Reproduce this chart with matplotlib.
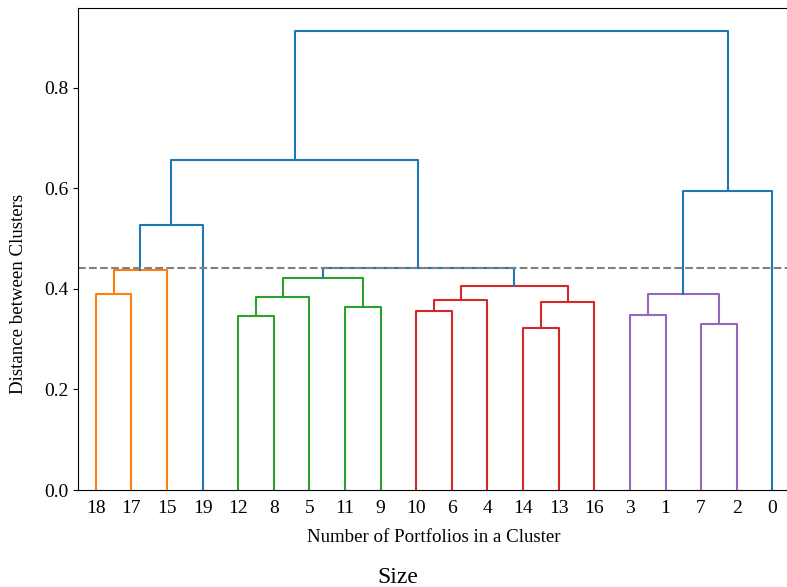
import matplotlib
matplotlib.use("Agg")
import matplotlib.pyplot as plt

plt.rcParams['font.family'] = ['Liberation Serif', 'DejaVu Serif']

# Leaf order as displayed
leaf_labels = [18, 17, 15, 19, 12, 8, 5, 11, 9, 10, 6, 4, 14, 13, 16, 3, 1, 7, 2, 0]

# Linkage: (child_a, child_b, height, colour); new cluster ids start at 20
merge_a = [18, 20, 12, 22, 11, 23, 10, 26, 14, 28, 27, 3, 7, 31, 25, 21, 35, 33, 36]
merge_b = [17, 15, 8, 5, 9, 24, 6, 4, 13, 16, 29, 1, 2, 32, 30, 19, 34, 0, 37]
merge_h = [0.390, 0.437, 0.347, 0.383, 0.363, 0.421, 0.356, 0.378, 0.322, 0.373,
           0.406, 0.349, 0.331, 0.390, 0.441, 0.526, 0.656, 0.595, 0.912]
merge_c = ['C1', 'C1', 'C2', 'C2', 'C2', 'C2', 'C3', 'C3', 'C3', 'C3',
           'C3', 'C4', 'C4', 'C4', 'C0', 'C0', 'C0', 'C0', 'C0']

threshold = 0.442

fig = plt.figure(figsize=(7.87, 5.87), dpi=100)
ax = fig.add_axes([0.099, 0.165, 0.905, 0.821])

pos = {lab: 5 + 10 * i for i, lab in enumerate(leaf_labels)}
hgt = {lab: 0.0 for lab in leaf_labels}
n = len(leaf_labels)
for k, (a, b, h, c) in enumerate(zip(merge_a, merge_b, merge_h, merge_c)):
    xa, xb = pos[a], pos[b]
    ax.plot([xa, xa, xb, xb], [hgt[a], h, h, hgt[b]], color=c, lw=1.5)
    pos[n + k] = (xa + xb) / 2
    hgt[n + k] = h

ax.axhline(threshold, color='gray', ls='--', lw=1.5)

ax.set_xlim(0, 10 * n)
ax.set_ylim(0, max(merge_h) * 1.05)
ax.set_xticks([5 + 10 * i for i in range(n)])
ax.set_xticklabels([str(l) for l in leaf_labels], fontsize=14)
ax.tick_params(axis='x', length=0, pad=7)
ax.set_yticks([0.0, 0.2, 0.4, 0.6, 0.8])
ax.set_yticklabels(['0.0', '0.2', '0.4', '0.6', '0.8'], fontsize=14)
ax.set_ylabel('Distance between Clusters', fontsize=13.6)
ax.yaxis.set_label_coords(-0.071, 0.407)
ax.set_xlabel('Number of Portfolios in a Cluster', fontsize=13.6, labelpad=9)

fig.text(0.506, 0.007, 'Size', ha='center', va='baseline', fontsize=17)

fig.savefig('out.png', dpi=100)
